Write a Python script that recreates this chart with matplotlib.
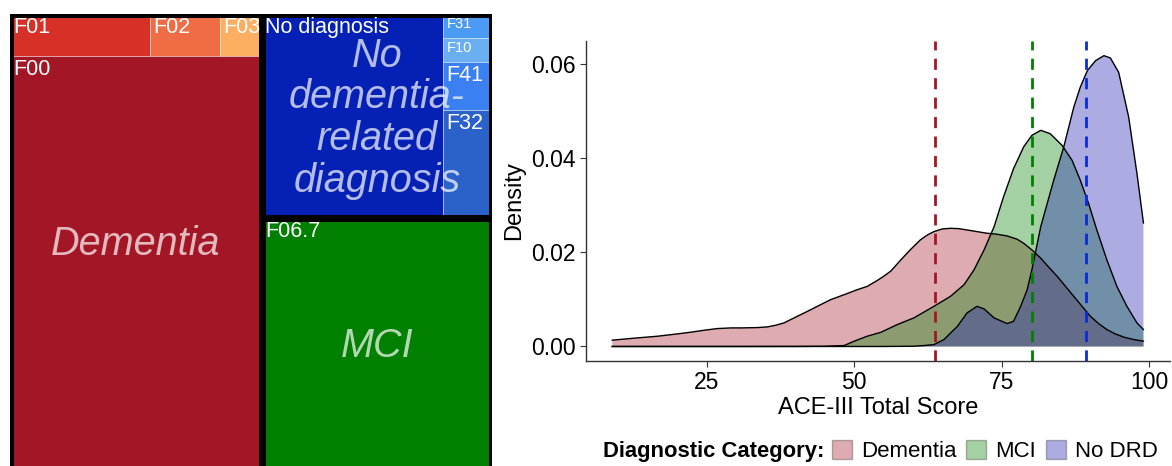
import matplotlib
matplotlib.use("Agg")
import matplotlib.pyplot as plt
from matplotlib.patches import Rectangle, Patch

plt.rcParams['font.family'] = ['Liberation Sans', 'DejaVu Sans']

# ---- treemap data (counts per diagnosis code) ----
dem_codes = ['F00', 'F01', 'F02', 'F03']
dem_counts = [178, 10, 5, 3]
dem_colors = ['#A31626', '#D73027', '#F06C45', '#FDAE61']

nodrd_codes = ['No diagnosis', 'F31', 'F10', 'F41', 'F32']
nodrd_counts = [63, 2, 2, 4, 9]
nodrd_colors = ['#0521B5', '#4B9BF5', '#69AFF2', '#3A80F2', '#2B62C9']

mci_codes = ['F06.7']
mci_counts = [99]
mci_colors = ['#007F00']

# ---- density data (ACE-III total score) ----
dem_x = [9.0, 12.7, 16.7, 20.1, 22.3, 24.6, 26.8, 29.1, 30.8, 33.6, 35.3, 36.7, 38.1,
         39.8, 42.1, 44.3, 46.0, 48.3, 50.5, 52.2, 53.9, 55.0, 56.2, 57.9, 59.6, 61.2,
         62.4, 63.5, 64.9, 66.3, 67.7, 69.1, 70.8, 72.5, 74.2, 75.9, 77.6, 78.7, 80.1,
         81.6, 83.0, 84.4, 85.8, 87.2, 88.6, 90.0, 91.4, 92.8, 94.2, 95.7, 97.3, 99.0]
dem_y = [0.00134, 0.00176, 0.00218, 0.00268, 0.00303, 0.00345, 0.00380, 0.00394, 0.00394,
         0.00401, 0.00416, 0.00451, 0.00500, 0.00606, 0.00747, 0.00887, 0.00993, 0.01099,
         0.01204, 0.01275, 0.01400, 0.01490, 0.01600, 0.01838, 0.02064, 0.02261, 0.02366,
         0.02437, 0.02493, 0.02507, 0.02500, 0.02472, 0.02437, 0.02402, 0.02381, 0.02345,
         0.02275, 0.02190, 0.02049, 0.01873, 0.01676, 0.01486, 0.01275, 0.01063, 0.00852,
         0.00641, 0.00486, 0.00359, 0.00268, 0.00197, 0.00148, 0.00113]

mci_x = [9.0, 30.0, 40.0, 44.9, 48.3, 50.0, 52.2, 54.5, 57.3, 60.1, 63.5, 66.3, 68.6, 70.3,
         72.0, 73.7, 75.3, 77.0, 78.7, 80.1, 81.6, 83.2, 85.2, 86.9, 88.3, 89.7, 91.1, 92.8,
         94.5, 96.2, 97.9, 99.0]
mci_y = [0.0, 0.0, 0.00001, 0.00005, 0.0002, 0.00113, 0.00218, 0.00300, 0.00465, 0.00606,
         0.00852, 0.01063, 0.01310, 0.01627, 0.02049, 0.02542, 0.03176, 0.03775, 0.04233,
         0.04479, 0.04585, 0.04514, 0.04268, 0.03951, 0.03528, 0.03035, 0.02472, 0.01838,
         0.01275, 0.00852, 0.00500, 0.00359]

nodrd_x = [9.0, 55.0, 60.0, 61.8, 63.5, 65.2, 67.5, 69.1, 70.8, 72.0, 73.7, 75.9, 77.0,
           78.2, 79.3, 80.1, 81.6, 82.7, 83.8, 85.5, 87.2, 88.3, 89.5, 90.9, 92.3, 93.4,
           94.8, 96.5, 97.9, 99.0]
nodrd_y = [0.0, 0.0, 0.00005, 0.0002, 0.0004, 0.00148, 0.00430, 0.00711, 0.00852, 0.00796,
           0.00606, 0.00486, 0.00535, 0.00852, 0.01204, 0.01627, 0.02542, 0.03035, 0.03528,
           0.04233, 0.05078, 0.05500, 0.05853, 0.06064, 0.06169, 0.06120, 0.05817, 0.04866,
           0.03669, 0.02620]

group_names = ['Dementia', 'MCI', 'No DRD']
group_means = [63.7, 80.2, 89.3]
fill_colors = ['#A31626', '#008000', '#1A1AB4']
line_colors = ['#A31626', '#008000', '#0A2BD8']

W, H = 1172, 466
fig = plt.figure(figsize=(W / 100, H / 100), dpi=100)

# ================= treemap =================
axt = fig.add_axes([10 / W, (H - 470) / H, 482 / W, 456 / H])
axt.set_xlim(0, 1)
axt.set_ylim(1, 0)
axt.axis('off')

total = sum(dem_counts) + sum(nodrd_counts) + sum(mci_counts)
dem_w = sum(dem_counts) / total
right_n = sum(nodrd_counts) + sum(mci_counts)
nodrd_h = sum(nodrd_counts) / right_n
ax_ph = 456


def draw_cell(x0, y0, w, h, color, label):
    axt.add_patch(Rectangle((x0, y0), w, h, facecolor=color,
                            edgecolor=(1, 1, 1, 0.45), lw=0.6))
    fs = 15.5 if h * ax_ph > 30 else 10.5
    axt.annotate(label, (x0, y0), xytext=(2.5, -2), textcoords='offset points',
                 ha='left', va='top', color='white', fontsize=fs)


# dementia: top row of small codes, F00 below
row_n = sum(dem_counts[1:])
row_h = row_n / sum(dem_counts)
x = 0
for code, n, c in zip(dem_codes[1:], dem_counts[1:], dem_colors[1:]):
    w = dem_w * n / row_n
    draw_cell(x, 0, w, row_h, c, code)
    x += w
draw_cell(0, row_h, dem_w, 1 - row_h, dem_colors[0], dem_codes[0])

# no DRD: 'No diagnosis' left, column of the rest on the right
rest_n = sum(nodrd_counts[1:])
main_w = (1 - dem_w) * nodrd_counts[0] / sum(nodrd_counts)
draw_cell(dem_w, 0, main_w, nodrd_h, nodrd_colors[0], nodrd_codes[0])
y = 0
for code, n, c in zip(nodrd_codes[1:], nodrd_counts[1:], nodrd_colors[1:]):
    h = nodrd_h * n / rest_n
    draw_cell(dem_w + main_w, y, 1 - dem_w - main_w, h, c, code)
    y += h

# MCI
draw_cell(dem_w, nodrd_h, 1 - dem_w, 1 - nodrd_h, mci_colors[0], mci_codes[0])

# group borders and labels
groups = [(0, 0, dem_w, 1, 'Dementia'),
          (dem_w, 0, 1 - dem_w, nodrd_h, 'No\ndementia-\nrelated\ndiagnosis'),
          (dem_w, nodrd_h, 1 - dem_w, 1 - nodrd_h, 'MCI')]
for gx, gy, gw, gh, name in groups:
    axt.add_patch(Rectangle((gx, gy), gw, gh, fill=False, edgecolor='black', lw=5))
    axt.text(gx + gw / 2, gy + gh / 2 + 0.005, name, ha='center', va='center',
             fontsize=28.5, style='italic', color='white', alpha=0.7, linespacing=1.12)

# ================= density plot =================
ax = fig.add_axes([585.7 / W, (H - 361) / H, (1170 - 585.7) / W, (361 - 41) / H])
series = [(dem_x, dem_y), (mci_x, mci_y), (nodrd_x, nodrd_y)]
for (xs, ys), fc in zip(series, fill_colors):
    ax.fill_between(xs, 0, ys, facecolor=fc, alpha=0.36, lw=0)
    ax.plot(xs, ys, color='black', lw=1, solid_joinstyle='round')
for m, lc in zip(group_means, line_colors):
    ax.axvline(m, color=lc, lw=2, linestyle=(0, (4, 3)))

ax.set_xlim(4.5, 103.5)
ax.set_ylim(-0.00308, 0.0648)
ax.set_xticks([25, 50, 75, 100])
ax.set_yticks([0.0, 0.02, 0.04, 0.06])
ax.set_yticklabels(['0.00', '0.02', '0.04', '0.06'])
for s in ['top', 'right']:
    ax.spines[s].set_visible(False)
for s in ['left', 'bottom']:
    ax.spines[s].set_color('#333333')
    ax.spines[s].set_linewidth(1)
ax.tick_params(labelsize=16.5, length=4, color='#333333', labelcolor='black')
ax.set_xlabel('ACE-III Total Score', fontsize=17, labelpad=2)
ax.set_ylabel('Density', fontsize=17, labelpad=4)

# legend with inline bold title
handles = [Patch(facecolor=fc, alpha=0.36, edgecolor='#333333', lw=1) for fc in fill_colors]
for h in handles:
    h.set_edgecolor((0.2, 0.2, 0.2, 1))
fig.text(603 / W, (H - 451) / H, 'Diagnostic Category:', fontsize=15.8,
         fontweight='bold', ha='left', va='center')
fig.legend(handles, group_names, loc='center left', bbox_to_anchor=(832 / W, (H - 451) / H),
           ncol=3, frameon=False, fontsize=16, handlelength=0.9, handleheight=0.9,
           handletextpad=0.4, columnspacing=0.45, borderpad=0, borderaxespad=0)

fig.savefig('out.png', dpi=100)
